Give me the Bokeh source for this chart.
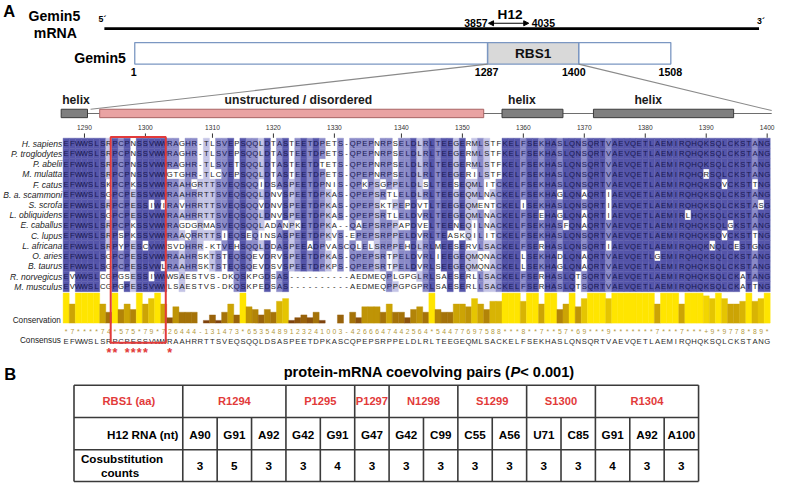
from collections import Counter
from bokeh.plotting import figure
from bokeh.models import Range1d, Arrow, NormalHead
from bokeh.embed import file_html
from bokeh.resources import INLINE
from bokeh.core.properties import value

# ---------------- data ----------------
panel_labels = ["A", "B"]
mrna_name = ["Gemin5", "mRNA"]
mrna_ends = ["5\u00b4", "3\u00b4"]
h12_name = "H12"
h12_start = 3857
h12_end = 4035
protein_name = "Gemin5"
protein_domain = "RBS1"
protein_marks = [1, 1287, 1400, 1508]

ss_labels = ["helix", "unstructured / disordered", "helix", "helix"]
ss_kind = ["helix", "coil", "helix", "helix"]
ss_start = [1287, 1293, 1357, 1372]
ss_end = [1290, 1353, 1366, 1394]

first_residue = 1287
ruler_ticks = [1290, 1300, 1310, 1320, 1330, 1340, 1350, 1360, 1370, 1380, 1390, 1400]

species = ["H. sapiens", "P. troglodytes", "P. abelii", "M. mulatta", "F. catus",
           "B. a. scammoni", "S. scrofa", "L. obliquidens", "E. caballus", "C. lupus",
           "L. africana", "O. aries", "B. taurus", "R. norvegicus", "M. musculus"]

sequences = [
    "EFWWSLSRPCPNSSVWWRAGHR-TLSVEPSQQLDTASTEETDPETS-QPEPNRPSELDLRLTEEGERMLSTFKELFSEKHASLQNSQRTVAEVQETLAEMIRQHQKSQLCKSTANG",
    "EFWWSLSRPCPNSSVWWRAGHR-TLSVEPSQQLDTASTEETDPETS-QPEPNRPSELDLRLTEEGERMLSTFKELFSEKHASLQNSQRTVAEVQETLAEMIRQHQKSQLCKSTANG",
    "EFWWSLSRPCPNSSVWWRAGHR-TLSVETSQQLDTASTEETDTETS-QPEPNRPSELDLRLTEEGERMLSTFKELFSEKHASLQNSQRTVAEVQETLAEMIRQHQKSQLCKSTANG",
    "EFWWSLSRPCPNSSVWWGTGHR-TLCVEPSQQLDTASTEETDPETS-QPEPNRPSELDLRLTEEGERILSTFKELFSEKHASLQNSQRTVAEVQETLAEMIRQHQRSQLCKSTANG",
    "EFWWSLSKPCPKSSVWWRAAHGRTTSVEQSQQIDSASPEETDPNIS-QPKPSGPPELDLSLTEESEQMLITCKELFSEKHASLQNSQRTVAEVQETLAEMIRQHQKSQVCKSTTNG",
    "EFWWSLSGPCPESSVWWRAAHRRTTSVEQSQQLDNVSPEETDPKAS-QPEPSRTLELDLRLTEEGEQMLNACKELFSEKHAGLQNAQRTIAEVQETLAEMIRQHQKSQLCKSTANG",
    "EFWWSLSRPCPESSIWIRAVHRRTTSVEQSQQVDNVSPEETDPKAS-QPEPSKTPEPDVTLTEEGEQMENTCKELISEKHASLQNSQRTIAEVQETLAEMIRQHQKSQLCKSTASG",
    "EFWWSLSGPCPESSVWWRAAHRRTTSVEQSQQLDNVSPEETDPKAS-QPEPSRTLELDVRLTEEGEQMLNACKELFSEEHAGLQNAQRTIAEVQETLAEMIRLHQKSQLCKSTANG",
    "EFWWSLSRPCPKSSVWWRAGDGRMASVEQSQQLADANPKETDPKA--QAEPSRPPAPDVELTEENEQILNACKELFSEKHASFQNAQRTVAEVQETLAEMIRQHQKSQLGKSTANG",
    "EFWWSLSRPSPKSSVWWRAAQRRTTSIEQSEQINSASPEETDPKVS-EPEPSRPPELDVRLTEASKQILITCKELFSEKHASLQNSQRTVAEVQETLAEMIRQHQKSQVCKSTTNG",
    "EFWWSLSRPYPESCVWWSVDHRR-KTVEHSQQLDDASPEEADPVASCQLELSRPPEHDLRLMEESERVLSACKELFSERHASLQNSQRTIAEVQETLAEMIRQHQKNQLCESTGNG",
    "EFWWSLSGPCPESSVWWRAAHRSKTSTEQSQEVDRVSPEETDPKAS-QPEPSRTPELDVRLIEEGEQMQNACKELLSEKHADLQNAQRTVAEVQETLGEMIRQHQKSQLCKSTANG",
    "EFWWSLSGPCPESSVWLRAAHRSKTSTEQSQEVDSVSPEETDPKPS-QPEPSRTPELDVRLSEEGEQMQNACKELLSEKHAGLQNAQRTVAEVQETLAEMIRQHQKSQLCKSTANG",
    "EVWWSLCGPGSESSIWWWSAESTVS-DKQSKPGDSAS----------AEDMEQPLGPGLRLSAESERLLSACKELFSERHASLQTSQRTVAEVQETLAEMIRQHQKSQLCKATANG",
    "EVWWSLCGPGPESSVWWLSAESTVS-DKQSKPEDSAS----------AEDMEQPPGPGPRLSAESERLLSACKELFSERHASLQTSQRTVAEVQETLAEMIRQHQKSQLCKATTNG",
]

consensus = "EFWWSLSRPCPESSVWWRAAHRRTTSVEQSQQLDSASPEETDPKASCQPEPSRPPELDLRLTEEGEQMLSACKELFSEKHASLQNSQRTVAEVQETLAEMIRQHQKSQLCKSTANG"

# conservation score per alignment column (11 = '*', 10 = '+', None = '-')
conservation = [
    11, 7, 11, 11, 11, 11, 7, 4, 11, 5, 7, 5, 11, 7, 9, 11, 7,
    2, 6, 4, 4, 4, None, 1, 3, 1, 4, 7, 3, 11, 6, 5, 3, 5, 4, 8, 9, 1, 2, 3, 2, 4, 1, 0, 0, 3, None, 4, 2, 6, 6, 6, 4, 7,
    4, 4, 2, 5, 6, 4, 11, 5, 4, 4, 7, 7, 6, 9, 7, 5, 8, 8, 11, 11, 11, 8, 11, 11, 7, 11,
    11, 5, 7, 11, 6, 9, 11, 11, 11, 9, 11, 11, 11, 11, 11, 11, 11, 7, 11, 11,
    11, 7, 11, 11, 11, 10, 9, 11, 9, 7, 7, 8, 11, 8, 9, 11,
]

starred_residues = [1294, 1295, 1297, 1298, 1299, 1300, 1304]
boxed_residues = [1295, 1303]

table_title = ["protein-mRNA coevolving pairs (", "P", "< 0.001)"]
row_headers = ["RBS1 (aa)", "H12 RNA (nt)", "Cosubstitution", "counts"]
aa_labels = ["R1294", "P1295", "P1297", "N1298", "S1299", "S1300", "R1304"]
aa_span = [3, 2, 1, 2, 2, 2, 3]
nt_labels = ["A90", "G91", "A92", "G42", "G91", "G47", "G42", "C99", "C55", "A56", "U71", "C85", "G91", "A92", "A100"]
cosub_counts = [3, 5, 3, 3, 4, 3, 3, 3, 3, 3, 3, 3, 4, 3, 3]

# ---------------- layout / style ----------------
FONT = "Liberation Sans"
K = 0.972
RED = "#e23a3a"

p = figure(width=784, height=488, x_range=Range1d(0, 800), y_range=Range1d(504, 0),
           output_backend="svg", toolbar_location=None, min_border=0,
           x_axis_location=None, y_axis_location=None)
p.grid.visible = False
p.outline_line_color = None
p.background_fill_color = "white"
p.border_fill_color = "white"


def txt(xs, ys, ss, size, color="#000000", style="normal", align="center", baseline="middle"):
    if not isinstance(xs, (list, tuple)):
        xs, ys, ss = [xs], [ys], [ss]
    p.text(x=list(xs), y=list(ys), text=list(ss), text_font=value(FONT),
           text_font_size=value(f"{size * K:.2f}px"), text_font_style=style,
           text_color=color, text_align=align, text_baseline=baseline)


# panel letters
txt(9, 11, panel_labels[0], 17, style="bold")
txt(10, 386, panel_labels[1], 17, style="bold")

# ---- mRNA ----
MRNA_Y = 29
MRNA_X = (106, 774)
txt(55, 16, mrna_name[0], 14.5, style="bold")
txt(56, 33.5, mrna_name[1], 14.5, style="bold")
p.segment(x0=[MRNA_X[0]], y0=[MRNA_Y], x1=[MRNA_X[1]], y1=[MRNA_Y], line_color="black", line_width=2.6)
txt(104, 19, mrna_ends[0], 9, style="bold")
txt(776, 21, mrna_ends[1], 9, style="bold")
H12_X = (498, 539)
H12_Y = 23.5
p.add_layout(Arrow(start=NormalHead(size=5, fill_color="black", line_color="black"),
                   end=NormalHead(size=5, fill_color="black", line_color="black"),
                   x_start=H12_X[0], y_start=H12_Y, x_end=H12_X[1], y_end=H12_Y,
                   line_color="black", line_width=1.1))
txt(520, 14.5, h12_name, 14, style="bold")
txt(H12_X[0] - 1, 22.8, str(h12_start), 10.8, style="bold", align="right")
txt(H12_X[1] + 3, 22.8, str(h12_end), 10.8, style="bold", align="left")

# ---- protein bar ----
PROT_TOP, PROT_BOT = 43.5, 65.7
PROT_X = [137, 497, 590, 684]
MARK_LABEL_X = [136, 496, 585, 683.5]
p.quad(left=[PROT_X[1]], right=[PROT_X[2]], top=[PROT_TOP], bottom=[PROT_BOT],
       fill_color="#d9d9d9", line_color=None)
p.quad(left=[PROT_X[0], PROT_X[1], PROT_X[2]], right=[PROT_X[1], PROT_X[2], PROT_X[3]],
       top=[PROT_TOP] * 3, bottom=[PROT_BOT] * 3, fill_color=None,
       line_color="#7b97c2", line_width=1.3)
txt((PROT_X[1] + PROT_X[2]) / 2, 54.8, protein_domain, 14, style="bold", color="#111111")
txt(128, 59.5, protein_name, 14.5, style="bold", align="right")
txt(MARK_LABEL_X, [73.8] * 4, [str(m) for m in protein_marks], 11, style="bold")

# ---- alignment geometry ----
NCOL = len(consensus)
X0, CW = 63.9, 6.22
Y0, RH = 142.2, 10.57


def cx(c):
    return X0 + (c + 0.5) * CW


human = sequences[0]
res_col = {}
r = first_residue
for c, ch in enumerate(human):
    if ch != "-":
        res_col[r] = c
        r += 1

# ---- secondary structure + zoom lines ----
SS_TOP, SS_BOT = 112.3, 121.0
SS_MID = (SS_TOP + SS_BOT) / 2
p.segment(x0=[X0 - 2], y0=[SS_MID], x1=[X0 + NCOL * CW + 1.5], y1=[SS_MID], line_color="#6e6e6e", line_width=1.1)
p.segment(x0=[PROT_X[1], PROT_X[2]], y0=[PROT_BOT, PROT_BOT],
          x1=[X0 + 28, X0 + NCOL * CW + 1.5], y1=[SS_TOP, SS_MID - 3],
          line_color="#8a8a8a", line_width=1.1)
SS_LABEL_X = [77, 304, 532, 661]
for lab, kind, s0, s1, lx in zip(ss_labels, ss_kind, ss_start, ss_end, SS_LABEL_X):
    left = X0 + res_col[s0] * CW - (2 if s0 == first_residue else 0)
    right = X0 + (res_col[s1] + 1) * CW
    if kind == "helix":
        fc, lc = "#7f7f7f", "#3c3c3c"
    else:
        fc, lc = "#e9a3a3", "#a86464"
    p.quad(left=[left], right=[right], top=[SS_TOP], bottom=[SS_BOT], fill_color=fc, line_color=lc, line_width=1)
    txt(lx, 103, lab, 12.5, style="bold", color="#1a1a1a")

# ---- ruler ----
tick_x = [cx(res_col[t]) for t in ruler_ticks]
p.segment(x0=tick_x, y0=[137.3] * len(tick_x), x1=tick_x, y1=[141.8] * len(tick_x), line_color="#333333", line_width=1)
txt(tick_x, [131.5] * len(tick_x), [str(t) for t in ruler_ticks], 6.8, color="#333333")

# ---- species labels ----
txt([63.0] * len(species), [Y0 + (i + 0.5) * RH + 0.3 for i in range(len(species))], species, 8.8, style="italic",
    color="#1e1e1e", align="right")

# ---- percentage-identity colouring ----
NSEQ = len(sequences)
col_mode = []
for c in range(NCOL):
    cnt = Counter(s[c] for s in sequences if s[c] != "-")
    res, n = cnt.most_common(1)[0]
    col_mode.append((res, 100.0 * n / NSEQ))

DARK, MED, LIGHT = "#5555aa", "#8a8ac8", "#c4c4e6"
L, R_, T, B, FC = [], [], [], [], []
tx, ty, tt, tc = [], [], [], []
for i, s in enumerate(sequences):
    for c, ch in enumerate(s):
        res, pct = col_mode[c]
        colr = None
        if ch == res:
            if pct > 80:
                colr = DARK
            elif pct > 60:
                colr = MED
            elif pct > 40:
                colr = LIGHT
        top = Y0 + i * RH
        if colr:
            L.append(X0 + c * CW); R_.append(X0 + (c + 1) * CW)
            T.append(top); B.append(top + RH); FC.append(colr)
        tx.append(cx(c)); ty.append(top + RH / 2 + 0.4); tt.append(ch)
        tc.append("#191950" if colr in (DARK, MED) else "#222222")
p.quad(left=L, right=R_, top=T, bottom=B, fill_color=FC, line_color=FC, line_width=0.4)
txt(tx, ty, tt, 7.9, color=tc)

# ---- conservation histogram ----
BASE, MAXH = 333.2, 31.0
bl, br, bt, bb, bc = [], [], [], [], []
dig_x, dig_t = [], []
for c, v in enumerate(conservation):
    dig_x.append(cx(c))
    if v is None:
        dig_t.append("-")
        continue
    dig_t.append("*" if v == 11 else "+" if v == 10 else str(v))
    if v <= 0:
        continue
    f = v / 11.0
    rr = int(255 * (0.45 + 0.55 * f))
    gg = int(255 * (0.2 + 0.7 * f))
    bb_ = int(255 * 0.06 * (1 - f))
    col = f"#{rr:02x}{gg:02x}{bb_:02x}"
    bl.append(X0 + c * CW); br.append(X0 + (c + 1) * CW)
    bt.append(BASE - MAXH * f); bb.append(BASE); bc.append(col)
p.quad(left=bl, right=br, top=bt, bottom=bb, fill_color=bc, line_color=bc, line_width=0.4)
txt(61.5, 330.3, "Conservation", 8.4, color="#222222", align="right")
txt(dig_x, [341.6] * len(dig_x), dig_t, 7.0, color="#b39a42")
txt(61.5, 351.6, "Consensus", 8.4, color="#222222", align="right")
txt([cx(c) for c in range(NCOL)], [351.9] * NCOL, list(consensus), 7.9, color="#2a2a2a")

# stars
star_x = [cx(res_col[r]) for r in starred_residues]
txt(star_x, [364.5] * len(star_x), ["*"] * len(star_x), 13, color=RED, style="bold")

# red box
bx0 = X0 + res_col[boxed_residues[0]] * CW - 1.2
bx1 = X0 + (res_col[boxed_residues[1]] + 1) * CW - 1.0
p.quad(left=[bx0], right=[bx1], top=[141.0], bottom=[353.6], fill_color=None, line_color=RED, line_width=2)

# ---- panel B table ----
TX0, TXH, TX1 = 75.0, 186.0, 712.3
TY = [397.3, 430.7, 464.0, 496.7]
NTC = len(nt_labels)
TCW = (TX1 - TXH) / NTC
LINE = "#3a3a3a"
# title
t_start = 287.0
w1 = 233.4
txt(t_start + w1, 384, table_title[0], 15, style="bold", align="right")
txt(t_start + w1, 384, table_title[1], 15, style="bold italic", align="left")
txt(t_start + w1 + 10.0, 384, table_title[2], 15, style="bold", align="left")

# grid lines
hx0, hy0, hx1, hy1 = [], [], [], []
for yv in TY:
    hx0.append(TX0); hx1.append(TX1); hy0.append(yv); hy1.append(yv)
vx, vy0, vy1 = [TX0, TXH, TX1], [TY[0]] * 3, [TY[3]] * 3
edges = [TXH]
acc = 0
for sp in aa_span:
    acc += sp
    edges.append(TXH + acc * TCW)
for e in edges[1:-1]:
    vx.append(e); vy0.append(TY[0]); vy1.append(TY[1])
for k in range(1, NTC):
    vx.append(TXH + k * TCW); vy0.append(TY[1]); vy1.append(TY[3])
p.segment(x0=hx0 + vx, y0=hy0 + vy0, x1=hx1 + vx, y1=hy1 + vy1, line_color=LINE, line_width=1.6)

ym = [(TY[k] + TY[k + 1]) / 2 for k in range(3)]
txt((TX0 + TXH) / 2 + 0.5, ym[0], row_headers[0], 11.5, color=RED, style="bold")
txt([(edges[k] + edges[k + 1]) / 2 for k in range(len(aa_labels))], [ym[0]] * len(aa_labels), aa_labels,
    11.5, color=RED, style="bold")
txt(182, ym[1] + 1.2, row_headers[1], 12, style="bold", align="right")
txt([TXH + (k + 0.5) * TCW for k in range(NTC)], [ym[1] + 1.2] * NTC, nt_labels, 12, style="bold")
txt(124, 473, row_headers[2], 12, style="bold")
txt(122, 487, row_headers[3], 12, style="bold")
txt([TXH + (k + 0.5) * TCW for k in range(NTC)], [ym[2] + 0.8] * NTC, [str(v) for v in cosub_counts], 12,
    style="bold")

open("out.html", "w").write(file_html(p, INLINE))
